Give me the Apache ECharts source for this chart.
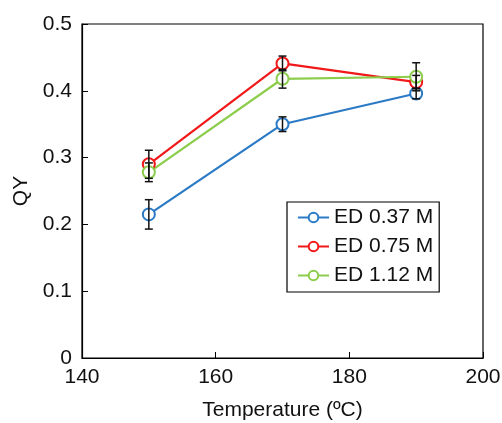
<!DOCTYPE html>
<html>
<head>
<meta charset="utf-8">
<script src="https://cdn.jsdelivr.net/npm/echarts@6/dist/echarts.min.js"></script>
<style>
  html, body { margin: 0; padding: 0; background: #fff; }
  #chart { width: 502px; height: 423px; }
</style>
</head>
<body>
<div id="chart"></div>
<script>
// temperatures (ºC)
var temps = [150, 170, 190];
var seriesNames = ['ED 0.37 M', 'ED 0.75 M', 'ED 1.12 M'];
var colors = ['#2a7ac6', '#f01818', '#8ccd4c'];
// QY values
var qy037 = [0.215, 0.350, 0.396];
var qy075 = [0.290, 0.441, 0.413];
var qy112 = [0.278, 0.418, 0.421];
// error bars (±)
var err037 = [0.022, 0.011, 0.008];
var err075 = [0.021, 0.011, 0.010];
var err112 = [0.014, 0.014, 0.021];

var values = [qy037, qy075, qy112];
var errors = [err037, err075, err112];
var font = 'Liberation Sans, Arial, sans-serif';

var chart = echarts.init(document.getElementById('chart'));

var series = [];
values.forEach(function (vals, i) {
  series.push({
    name: seriesNames[i],
    type: 'line',
    data: temps.map(function (t, k) { return [t, vals[k]]; }),
    symbol: 'emptyCircle',
    symbolSize: 12,
    lineStyle: { color: colors[i], width: 2.2 },
    itemStyle: { color: colors[i], borderWidth: 1.6 },
    z: 3
  });
});

// error bars
values.forEach(function (vals, i) {
  series.push({
    type: 'custom',
    silent: true,
    z: 4,
    data: temps.map(function (t, k) { return [t, vals[k], errors[i][k]]; }),
    renderItem: function (params, api) {
      var x = api.value(0), y = api.value(1), e = api.value(2);
      var hi = api.coord([x, y + e]);
      var lo = api.coord([x, y - e]);
      var w = 4;
      var st = { stroke: '#111', lineWidth: 1.5 };
      return {
        type: 'group',
        children: [
          { type: 'line', shape: { x1: hi[0], y1: hi[1], x2: lo[0], y2: lo[1] }, style: st },
          { type: 'line', shape: { x1: hi[0] - w, y1: hi[1], x2: hi[0] + w, y2: hi[1] }, style: st },
          { type: 'line', shape: { x1: lo[0] - w, y1: lo[1], x2: lo[0] + w, y2: lo[1] }, style: st }
        ]
      };
    }
  });
});

chart.setOption({
  animation: false,
  backgroundColor: '#fff',
  grid: {
    left: 82, right: 19, top: 24, bottom: 65,
    containLabel: false,
    outerBoundsMode: 'none',
    show: true, borderColor: '#000', borderWidth: 1.2
  },
  legend: {
    data: seriesNames,
    orient: 'vertical',
    left: 287, top: 202,
    padding: [5, 6, 6, 10],
    itemGap: 8,
    itemWidth: 31,
    itemHeight: 12,
    itemTextGap: 3,
    borderColor: '#000',
    borderWidth: 1.2,
    backgroundColor: '#fff',
    textStyle: { fontSize: 21, color: '#111', fontFamily: font, lineHeight: 21 }
  },
  xAxis: {
    type: 'value',
    min: 140, max: 200, interval: 20,
    name: 'Temperature (ºC)',
    nameLocation: 'middle',
    nameGap: 42,
    nameTextStyle: { fontSize: 21, color: '#111', fontFamily: font },
    axisLine: { lineStyle: { color: '#000', width: 1.2 } },
    axisTick: { inside: true, length: 6, lineStyle: { color: '#000' } },
    axisLabel: { fontSize: 21, color: '#111', fontFamily: font, margin: 9 },
    splitLine: { show: false }
  },
  yAxis: {
    type: 'value',
    min: 0, max: 0.5, interval: 0.1,
    name: 'QY',
    nameLocation: 'middle',
    nameGap: 50,
    nameTextStyle: { fontSize: 21, color: '#111', fontFamily: font },
    axisLine: { show: true, lineStyle: { color: '#000', width: 1.2 } },
    axisTick: { show: true, inside: true, length: 6, lineStyle: { color: '#000' } },
    axisLabel: { fontSize: 21, color: '#111', fontFamily: font, margin: 10 },
    splitLine: { show: false }
  },
  series: series
});
</script>
</body>
</html>
